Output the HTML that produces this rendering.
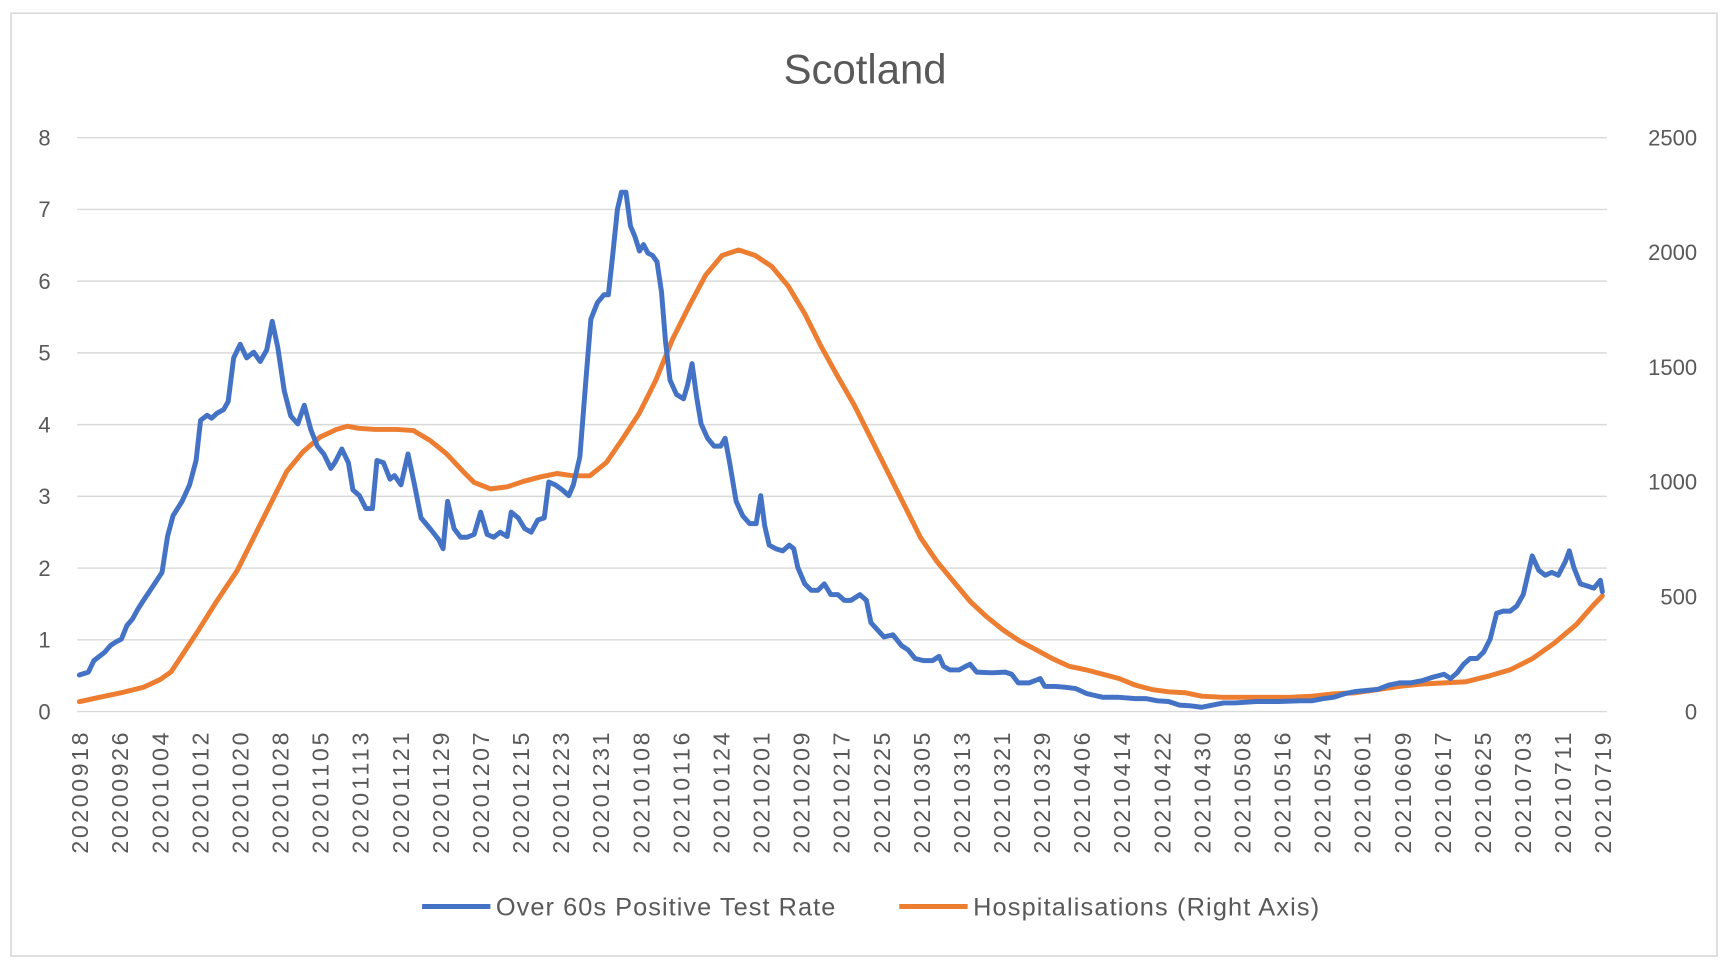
<!DOCTYPE html>
<html><head><meta charset="utf-8"><style>
html,body{margin:0;padding:0;background:#fff;}
svg{display:block;font-family:"Liberation Sans",sans-serif;}
</style></head><body>
<svg id="chart" width="1728" height="966" viewBox="0 0 1568 877" preserveAspectRatio="none" xmlns="http://www.w3.org/2000/svg">
<rect x="10" y="12" width="1548" height="856" fill="#fff" stroke="#d9d9d9" stroke-width="1.5"/>
<text x="785" y="76" text-anchor="middle" font-size="38" fill="#595959">Scotland</text>
<g id="grid"></g><g id="xlabels"></g><g id="series"></g>
<g>
<line x1="383" y1="823" x2="445" y2="823" stroke="#4472C4" stroke-width="4.5"/>
<text x="450" y="831" font-size="23" textLength="308" fill="#595959">Over 60s Positive Test Rate</text>
<line x1="816" y1="823" x2="878" y2="823" stroke="#ED7D31" stroke-width="4.5"/>
<text x="883" y="831" font-size="23" textLength="314" fill="#595959">Hospitalisations (Right Axis)</text>
</g>
</svg>
<script>
const leftTicks=[0,1,2,3,4,5,6,7,8];
const rightTicks=[0,500,1000,1500,2000,2500];
const dateLabels=["20200918","20200926","20201004","20201012","20201020","20201028","20201105","20201113","20201121","20201129","20201207","20201215","20201223","20201231","20210108","20210116","20210124","20210201","20210209","20210217","20210225","20210305","20210313","20210321","20210329","20210406","20210414","20210422","20210430","20210508","20210516","20210524","20210601","20210609","20210617","20210625","20210703","20210711","20210719"];
const blueDays=[0,1.8,2.9,5.1,6.2,7.3,8.4,9.5,10.6,11.7,12.8,15,16.5,17.6,18.7,20.5,22,23.3,24.2,25.5,26.4,27.5,28.8,29.7,30.8,32.1,33.4,34.8,36.1,37.4,38.5,39.6,40.9,42.2,43.6,44.9,46.2,47.5,48.8,50.2,51,52.4,53.7,54.6,55.9,57.2,58.5,59.4,60.7,62,62.9,64.2,65.6,66.9,68.2,70,71.7,72.6,73.5,74.8,76.1,77.4,78.8,80.1,81.4,82.7,84,85.4,86.2,87.6,88.9,90.2,91.5,92.8,93.7,95,96.4,97.7,98.6,99.9,101.2,102.1,103.4,104.7,105.6,106.5,107.4,108.2,109.1,110,110.9,111.8,112.6,113.5,114.4,115.3,116.2,117,117.9,119.2,120.6,121.4,122.3,123.2,124.1,125.4,126.7,128,128.9,129.8,131.1,132.4,133.8,135.1,136,136.8,137.7,139,140.4,141.7,142.6,143.4,144.8,146.1,147.4,148.7,150,151.4,152.7,154,155.8,157.1,158,159.3,160.6,162.4,164.1,165.4,166.8,168.5,170.3,171.6,172.5,173.8,175.6,176.9,177.8,179.1,182.2,184.8,186.1,187.4,189.6,191.8,192.7,194.9,196.7,198.9,201.1,204.2,207.2,210.8,213,215.2,217.4,219.6,221.8,224,226.2,228.4,230.6,235,239.4,243.8,246,248.2,250.4,252.6,254.8,259.2,261.4,263.6,265.8,268,270.2,272.4,273.7,275,276.3,277.6,279,280.3,281.6,282.9,284.2,285.6,286.9,288.2,289.1,290,291.3,292.6,293.9,295.2,296.6,297.4,298.3,299.6,301,302.3,303.6,304];
const blueValues=[0.51,0.55,0.71,0.83,0.92,0.97,1.01,1.20,1.29,1.43,1.55,1.78,1.94,2.44,2.73,2.93,3.16,3.50,4.06,4.13,4.09,4.16,4.21,4.32,4.93,5.12,4.93,5.01,4.88,5.04,5.44,5.08,4.47,4.12,4.01,4.27,3.93,3.70,3.59,3.39,3.47,3.66,3.47,3.09,3.01,2.83,2.83,3.50,3.47,3.24,3.29,3.16,3.59,3.16,2.70,2.55,2.40,2.27,2.93,2.55,2.43,2.43,2.47,2.78,2.47,2.43,2.50,2.44,2.78,2.70,2.55,2.50,2.67,2.70,3.20,3.16,3.09,3.01,3.16,3.55,4.70,5.47,5.70,5.81,5.81,6.39,7.00,7.24,7.24,6.77,6.62,6.42,6.51,6.39,6.36,6.27,5.85,5.16,4.62,4.42,4.36,4.55,4.85,4.39,4.01,3.81,3.70,3.70,3.81,3.47,2.93,2.73,2.62,2.62,3.01,2.59,2.32,2.27,2.24,2.32,2.27,2.01,1.78,1.69,1.69,1.78,1.63,1.63,1.55,1.55,1.63,1.55,1.24,1.14,1.04,1.07,0.92,0.86,0.74,0.71,0.71,0.77,0.63,0.58,0.58,0.63,0.66,0.55,0.54,0.55,0.52,0.40,0.40,0.46,0.35,0.35,0.34,0.32,0.25,0.20,0.20,0.18,0.18,0.15,0.14,0.09,0.08,0.06,0.09,0.12,0.12,0.14,0.14,0.15,0.15,0.18,0.20,0.25,0.28,0.31,0.37,0.40,0.40,0.43,0.48,0.52,0.46,0.54,0.66,0.74,0.74,0.83,1.01,1.37,1.40,1.40,1.47,1.63,1.90,2.17,1.97,1.90,1.94,1.90,2.09,2.24,2.01,1.78,1.75,1.72,1.83,1.67];
const hospDays=[0,4,8.4,12.8,16.1,18.3,20.5,23.8,27.1,31.5,34.8,38.1,41.4,44.7,48,51.3,53.5,55.7,59,63.4,66.7,70,73.3,76.6,78.8,82.1,85.4,88.7,92,95.3,98.6,101.9,105.2,108.5,111.8,115.1,118.4,121.7,125,128.3,131.6,134.9,138.2,141.5,144.8,148.1,151.4,154.7,158,161.3,164.6,167.9,171.2,174.5,177.8,181.1,184.4,187.7,191,194.3,197.6,200.9,204.2,207.5,210.8,214.1,217.4,220.7,224,228.4,232.8,237.2,241.6,246,250.4,254.8,259.2,263.6,268,272.4,276.8,281.2,285.6,290,294.4,298.8,302.1,304];
const hospValues=[43,62,82,106,139,173,245,355,470,614,758,902,1046,1133,1195,1229,1243,1234,1229,1229,1224,1181,1123,1046,998,970,979,1003,1022,1037,1027,1027,1085,1190,1301,1445,1622,1766,1901,1987,2011,1987,1939,1853,1733,1589,1459,1334,1190,1046,902,758,653,566,480,413,355,307,269,230,197,182,163,144,115,96,86,82,67,62,62,62,62,67,77,82,96,110,120,125,130,154,182,230,298,379,461,504];

const NS="http://www.w3.org/2000/svg";
const X0=72,X1=1454,Y0=646,Y1=125,DAYS=304;
const xs=d=>X0+(X1-X0)*d/DAYS;
const yL=v=>Y0-(Y0-Y1)*v/8;
const yR=v=>Y0-(Y0-Y1)*v/2500;
function mk(tag,attrs,parent){const e=document.createElementNS(NS,tag);for(const k in attrs)e.setAttribute(k,attrs[k]);parent.appendChild(e);return e;}
const grid=document.getElementById('grid');
leftTicks.forEach(t=>{
  const l=mk('line',{x1:70,x2:1458,y1:yL(t),y2:yL(t),stroke:'#d9d9d9','stroke-width':1.3},grid);
  
  
  const tx=mk('text',{x:46,y:yL(t)+7,'text-anchor':'end','font-size':20,fill:'#595959'},grid);
  tx.textContent=t;
  
  
});
rightTicks.forEach(t=>{
  const tx=mk('text',{x:1540,y:yR(t)+7,'text-anchor':'end','font-size':20,fill:'#595959'},grid);
  tx.textContent=t;
  
  
});
const xl=document.getElementById('xlabels');
dateLabels.forEach((d,i)=>{
  const x=xs(i*8)+8;
  const tx=mk('text',{x:0,y:0,'text-anchor':'end','font-size':21,textLength:110,fill:'#595959',transform:`translate(${x},665) rotate(-90)`},xl);
  tx.textContent=d;
  
  
});
const s=document.getElementById('series');
const hp=mk('polyline',{points:hospDays.map((d,i)=>xs(d)+','+yR(hospValues[i])).join(' '),fill:'none',stroke:'#ED7D31','stroke-width':4.5,'stroke-linejoin':'round','stroke-linecap':'round'},s);


const bp=mk('polyline',{points:blueDays.map((d,i)=>xs(d)+','+yL(blueValues[i])).join(' '),fill:'none',stroke:'#4472C4','stroke-width':4.5,'stroke-linejoin':'round','stroke-linecap':'round'},s);


</script>
</body></html>
